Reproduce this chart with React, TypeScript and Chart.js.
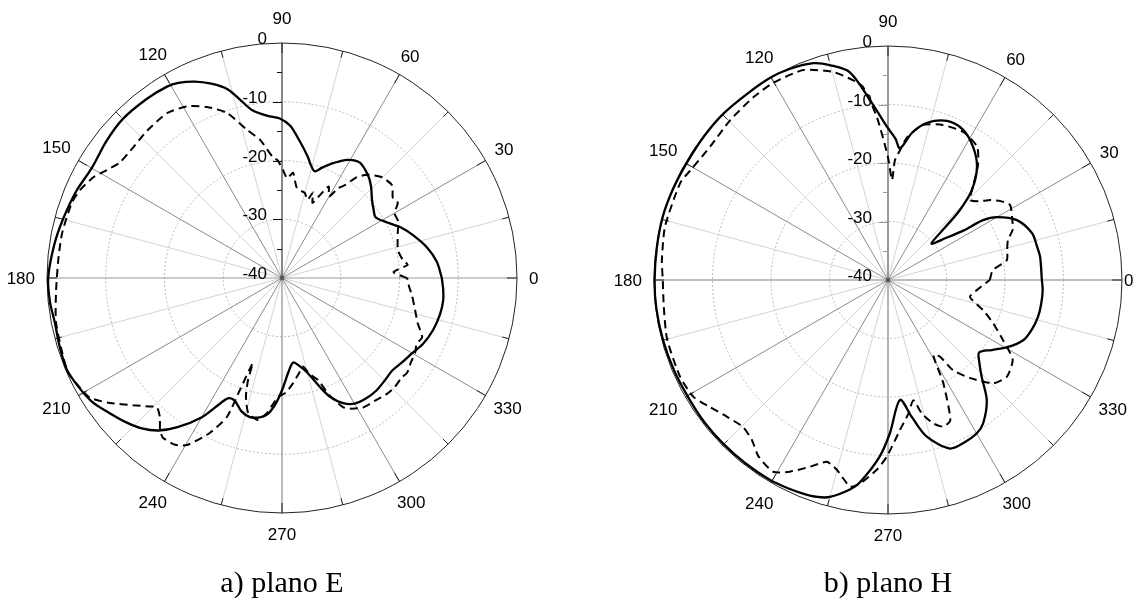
import React, { useEffect, useRef } from "react";
import { Chart, registerables } from "chart.js";

Chart.register(...registerables);

// ---------- axis definitions ----------
const DB_MIN = -40;
const ANGLE_TICKS = [0, 30, 60, 90, 120, 150, 180, 210, 240, 270, 300, 330];
const RADIAL_TICKS = [0, -10, -20, -30, -40];

// ---------- a) plano E ----------
const E_SIM_ANG = [0, 6, 12, 18, 23, 28, 33, 37, 41, 46, 50, 56, 61, 66, 70, 73, 76, 78, 83, 87, 91, 95, 100, 103, 106, 110, 114, 118, 121, 127, 135, 142, 150, 157, 165, 172, 180, 186, 191, 197, 203, 208, 213, 218, 223, 227, 231, 235, 240, 243, 246, 249, 253, 257, 261, 264, 267, 270, 274, 277.5, 281, 285, 289, 292, 296, 300, 305, 310, 315, 320, 325, 330, 335, 341, 347, 352, 356, 360];
const E_SIM_DB = [-12.8, -13.5, -14.8, -16.5, -18.0, -19.8, -21.0, -20.5, -19.7, -18.2, -17.2, -16.3, -17.0, -18.6, -20.0, -21.0, -20.0, -18.9, -16.3, -14.0, -12.8, -12.3, -11.0, -9.0, -6.6, -4.8, -3.4, -2.4, -2.0, -1.8, -1.7, -2.1, -2.6, -2.0, -1.4, -0.8, -0.2, -0.3, -0.6, -0.4, -0.2, -0.7, -1.4, -2.7, -3.9, -5.0, -6.6, -9.0, -12.6, -15.5, -17.6, -17.6, -16.3, -15.7, -16.0, -16.7, -18.5, -20.9, -24.0, -25.5, -24.8, -23.3, -20.5, -18.2, -16.3, -15.3, -15.0, -15.0, -15.3, -15.5, -15.0, -14.4, -13.5, -12.8, -12.4, -12.3, -12.5, -12.8];

const E_MEAS_ANG = [0, 3, 6, 8.5, 13.6, 21, 26, 30, 33, 36, 40, 45, 48, 50.5, 53.4, 56, 58, 60, 63, 66, 68, 70, 72, 75, 78, 81, 84, 87, 89.5, 92, 94.3, 99, 103.3, 108.4, 113.7, 119, 124.9, 132.4, 138.7, 144.6, 148.3, 151.9, 156.5, 160.3, 168.4, 175, 183, 191, 200, 204, 208, 212, 216, 220.4, 224, 225.9, 228.7, 231, 233.2, 237.4, 240.4, 245, 248.4, 249.4, 251, 251.6, 253, 256, 260.4, 263.7, 268, 272, 276, 280, 283.3, 286, 289.4, 292, 295.3, 298, 302, 307, 312, 316, 320, 323, 327, 330.6, 334, 337.1, 341.7, 346.5, 352.5, 356, 360];
const E_MEAS_DB = [-18.7, -21.0, -18.5, -19.2, -19.7, -18.9, -18.0, -17.9, -16.5, -16.7, -15.5, -15.8, -16.5, -17.2, -18.6, -21.0, -22.0, -24.0, -22.5, -25.0, -26.2, -24.5, -26.0, -25.0, -24.8, -24.3, -22.0, -23.0, -21.6, -20.0, -19.4, -16.2, -14.1, -10.4, -8.2, -6.6, -5.8, -6.0, -6.3, -6.1, -5.0, -3.6, -2.5, -2.0, -1.8, -1.8, -1.5, -0.8, -0.4, -0.2, -0.8, -1.5, -3.8, -6.6, -8.5, -9.4, -8.5, -7.0, -6.1, -6.3, -7.3, -10.9, -14.6, -19.6, -24.7, -21.7, -19.0, -16.3, -15.5, -16.9, -19.7, -20.5, -22.0, -23.5, -24.5, -23.0, -21.6, -18.5, -15.7, -14.8, -14.0, -13.8, -13.4, -13.3, -13.5, -13.3, -13.8, -14.0, -14.5, -14.1, -15.7, -16.7, -17.7, -18.3, -18.7];

// ---------- b) plano H ----------
const H_SIM_ANG = [0, 8.6, 13, 18, 24.9, 30, 32.2, 33.2, 36, 40, 42.7, 44.2, 47, 51.8, 57.4, 63.4, 69.6, 76, 80.7, 84.8, 87, 90.4, 95.7, 100.4, 105, 109, 115, 120, 127, 134.7, 142, 149.8, 157, 164.4, 172, 180, 187, 195, 203, 211, 218, 224.6, 232, 239.5, 244, 248.3, 252, 255, 259.7, 262, 267.2, 270.7, 275.7, 279.8, 283.9, 290.2, 295, 300, 303.6, 309.4, 314.1, 318, 321.5, 326, 330.6, 336, 341, 346.1, 351, 356.3, 360];
const H_SIM_DB = [-13.7, -13.7, -13.9, -14.1, -15.7, -18.5, -20.8, -24.5, -27.8, -30.3, -26.6, -22.9, -19.0, -15.4, -13.0, -11.3, -11.0, -12.3, -14.5, -17.4, -15.8, -13.8, -9.1, -3.9, -2.0, -0.8, -0.2, 0, -0.1, 0, -0.1, -0.2, -0.1, 0, -0.1, -0.1, -0.1, -0.2, -0.3, -0.4, -0.3, -0.3, -0.3, -0.3, -0.5, -0.7, -1.0, -1.6, -3.6, -5.0, -9.7, -13.8, -19.4, -16.3, -12.4, -9.3, -9.3, -9.7, -10.6, -13.4, -17.0, -19.0, -20.1, -18.6, -16.6, -14.7, -14.0, -13.6, -13.5, -13.5, -13.7];

const H_MEAS_ANG = [0, 5.4, 9.5, 14, 18.4, 22, 25.8, 31.6, 35, 38, 41, 44.3, 47.6, 52, 56.2, 63, 70.5, 77.3, 82.4, 85, 86.7, 87.7, 90, 93.9, 97.4, 100, 104.8, 112, 120.3, 126.4, 134.6, 143, 150, 155, 166.6, 175, 180, 186.8, 195, 205, 211, 215.5, 220.4, 225.4, 229.6, 233.7, 239.1, 242.9, 247.3, 251.4, 254.9, 259.6, 262.2, 266.6, 269.6, 274.6, 278.7, 281.9, 284.2, 287.5, 290.7, 294, 298.2, 301.1, 304.1, 305.8, 310, 315.5, 320.8, 327.4, 332.4, 337.7, 342.5, 348.3, 355, 360];
const H_MEAS_DB = [-22.6, -22.0, -19.4, -19.0, -18.4, -17.0, -16.4, -15.5, -16.5, -17.8, -19.5, -20.4, -18.5, -15.0, -12.6, -11.6, -11.9, -12.8, -15.4, -18.0, -19.5, -22.9, -19.0, -12.1, -6.7, -5.3, -3.2, -1.3, -1.0, -1.2, -1.6, -2.0, -1.5, -0.8, -0.8, -1.2, -1.5, -1.4, -0.9, -0.8, -1.2, -2.6, -3.9, -4.7, -4.1, -2.6, -1.8, -3.2, -5.4, -7.2, -6.4, -4.1, -4.9, -7.5, -9.8, -14.3, -16.9, -19.0, -16.5, -14.3, -13.2, -13.8, -20.0, -25.0, -24.2, -21.0, -18.1, -14.8, -13.8, -14.7, -17.8, -20.6, -23.0, -25.7, -24.3, -22.6];

const CAPTIONS = ["a) plano E", "b) plano H"];

// ---------- helpers ----------
function polarPoints(angles: number[], values: number[]) {
  return angles.map((a, i) => {
    const r = values[i] - DB_MIN;
    const t = (a * Math.PI) / 180;
    return { x: r * Math.cos(t), y: r * Math.sin(t) };
  });
}

type PanelStyle = {
  topAxisColor: string;
  bottomAxisColor: string;
  vAxisWidth: number;
  hAxisColor: string;
  hAxisWidth: number;
  zeroGap: number;
  radialLabelGap: number;
};

function makePolarGrid(style: PanelStyle) {
  return {
    id: "polarGrid",
    beforeDatasetsDraw(chart: any) {
      const ctx: CanvasRenderingContext2D = chart.ctx;
      const xs = chart.scales.x;
      const ys = chart.scales.y;
      const span = -DB_MIN;
      const cx = xs.getPixelForValue(0);
      const cy = ys.getPixelForValue(0);
      const R = xs.getPixelForValue(span) - cx;
      const P = (r: number, deg: number) => {
        const t = (deg * Math.PI) / 180;
        return [xs.getPixelForValue(r * Math.cos(t)), ys.getPixelForValue(r * Math.sin(t))];
      };
      const spoke = (deg: number, color: string, w: number) => {
        const [x, y] = P(span, deg);
        ctx.strokeStyle = color;
        ctx.lineWidth = w;
        ctx.beginPath();
        ctx.moveTo(cx, cy);
        ctx.lineTo(x, y);
        ctx.stroke();
      };
      ctx.save();
      // dotted rings
      ctx.setLineDash([2, 2]);
      ctx.strokeStyle = "#b9b9b9";
      ctx.lineWidth = 1;
      for (const v of RADIAL_TICKS) {
        if (v === 0 || v === DB_MIN) continue;
        const rp = xs.getPixelForValue(v - DB_MIN) - cx;
        ctx.beginPath();
        ctx.arc(cx, cy, rp, 0, Math.PI * 2);
        ctx.stroke();
      }
      ctx.setLineDash([]);
      // minor spokes
      for (const a of ANGLE_TICKS) spoke(a + 15, "#d4d4d4", 1);
      // major spokes
      for (const a of ANGLE_TICKS) {
        if (a % 90 === 0) continue;
        spoke(a, "#8a8a8a", 1);
      }
      // axes
      spoke(0, style.hAxisColor, style.hAxisWidth);
      spoke(180, style.hAxisColor, style.hAxisWidth);
      spoke(270, style.bottomAxisColor, style.vAxisWidth);
      spoke(90, style.topAxisColor, style.vAxisWidth);
      // outer circle
      ctx.strokeStyle = "#222";
      ctx.lineWidth = 1;
      ctx.beginPath();
      ctx.arc(cx, cy, R, 0, Math.PI * 2);
      ctx.stroke();
      // outer ticks every 15 degrees
      for (let a = 0; a < 360; a += 15) {
        const len = a % 30 === 0 ? 10 : 7;
        const t = (a * Math.PI) / 180;
        ctx.beginPath();
        ctx.moveTo(cx + R * Math.cos(t), cy - R * Math.sin(t));
        ctx.lineTo(cx + (R - len) * Math.cos(t), cy - (R - len) * Math.sin(t));
        ctx.stroke();
      }
      // radial axis ticks
      ctx.strokeStyle = style.topAxisColor;
      ctx.lineWidth = 1;
      for (let v = DB_MIN + 5; v < 0; v += 5) {
        const y = ys.getPixelForValue(v - DB_MIN);
        const len = v % 10 === 0 ? 9 : 5;
        ctx.beginPath();
        ctx.moveTo(cx - len, Math.round(y) + 0.5);
        ctx.lineTo(cx, Math.round(y) + 0.5);
        ctx.stroke();
      }
      // centre dot
      ctx.fillStyle = "#555";
      ctx.beginPath();
      ctx.arc(cx, cy, 2.2, 0, Math.PI * 2);
      ctx.fill();

      // labels
      ctx.font = '17px "Liberation Sans", Arial, sans-serif';
      ctx.fillStyle = "#000";
      ctx.textAlign = "center";
      ctx.textBaseline = "middle";
      for (const a of ANGLE_TICKS) {
        const s = String(a);
        const w = ctx.measureText(s).width;
        const t = (a * Math.PI) / 180;
        let off = 21 + (w / 2 - 9) * Math.abs(Math.cos(t));
        if (a === 90) off += 4;
        if (a === 0) off += style.zeroGap;
        ctx.fillText(s, cx + (R + off) * Math.cos(t), cy - (R + off) * Math.sin(t) + 1);
      }
      ctx.textAlign = "right";
      ctx.textBaseline = "alphabetic";
      for (const v of RADIAL_TICKS) {
        const y = ys.getPixelForValue(v - DB_MIN);
        ctx.fillText(String(v), cx - style.radialLabelGap, y + 1);
      }
      ctx.restore();
    },
  };
}

type PanelProps = {
  left: number;
  width: number;
  cx: number;
  cy: number;
  R: number;
  simAng: number[];
  simDb: number[];
  measAng: number[];
  measDb: number[];
  style: PanelStyle;
};

const CANVAS_H = 604;

function PolarPanel(p: PanelProps) {
  const ref = useRef<HTMLCanvasElement | null>(null);
  useEffect(() => {
    if (!ref.current) return;
    const chart = new Chart(ref.current, {
      type: "scatter",
      data: {
        datasets: [
          {
            data: polarPoints(p.simAng, p.simDb),
            showLine: true,
            borderColor: "#000",
            borderWidth: 2.3,
            pointRadius: 0,
            tension: 0.3,
            clip: false,
          } as any,
          {
            data: polarPoints(p.measAng, p.measDb),
            showLine: true,
            borderColor: "#000",
            borderWidth: 2,
            borderDash: [8, 5],
            pointRadius: 0,
            tension: 0.2,
            clip: false,
          } as any,
        ],
      },
      options: {
        animation: false,
        responsive: false,
        maintainAspectRatio: false,
        devicePixelRatio: 1,
        layout: {
          padding: {
            left: p.cx - p.R,
            right: p.width - p.cx - p.R,
            top: p.cy - p.R,
            bottom: CANVAS_H - p.cy - p.R,
          },
        },
        scales: {
          x: { type: "linear", min: DB_MIN, max: -DB_MIN, display: false },
          y: { type: "linear", min: DB_MIN, max: -DB_MIN, display: false },
        },
        plugins: {
          legend: { display: false },
          tooltip: { enabled: false },
        },
      },
      plugins: [makePolarGrid(p.style)],
    });
    return () => chart.destroy();
  }, []);
  return (
    <canvas
      ref={ref}
      width={p.width}
      height={CANVAS_H}
      style={{ position: "absolute", left: p.left, top: 0, width: p.width, height: CANVAS_H, display: "block" }}
    />
  );
}

export default function App() {
  const captionStyle = (cx: number): React.CSSProperties => ({
    position: "absolute",
    left: cx - 150,
    width: 300,
    top: 567,
    textAlign: "center",
    fontFamily: '"Liberation Serif", "Times New Roman", serif',
    fontSize: 30,
    lineHeight: "30px",
    color: "#000",
    whiteSpace: "nowrap",
  });
  return (
    <div style={{ position: "fixed", left: 0, top: 0, width: 1145, height: 604, background: "#fff", overflow: "hidden" }}>
      <PolarPanel
        left={0}
        width={572}
        cx={282}
        cy={278}
        R={235}
        simAng={E_SIM_ANG}
        simDb={E_SIM_DB}
        measAng={E_MEAS_ANG}
        measDb={E_MEAS_DB}
        style={{ topAxisColor: "#111", bottomAxisColor: "#777", vAxisWidth: 1, hAxisColor: "#999", hAxisWidth: 1.2, zeroGap: 0, radialLabelGap: 15 }}
      />
      <PolarPanel
        left={572}
        width={573}
        cx={316}
        cy={280}
        R={234}
        simAng={H_SIM_ANG}
        simDb={H_SIM_DB}
        measAng={H_MEAS_ANG}
        measDb={H_MEAS_DB}
        style={{ topAxisColor: "#9a9a9a", bottomAxisColor: "#b5b5b5", vAxisWidth: 2, hAxisColor: "#aaa", hAxisWidth: 1.5, zeroGap: -10, radialLabelGap: 16 }}
      />
      <div style={captionStyle(282)}>{CAPTIONS[0]}</div>
      <div style={captionStyle(888)}>{CAPTIONS[1]}</div>
    </div>
  );
}
